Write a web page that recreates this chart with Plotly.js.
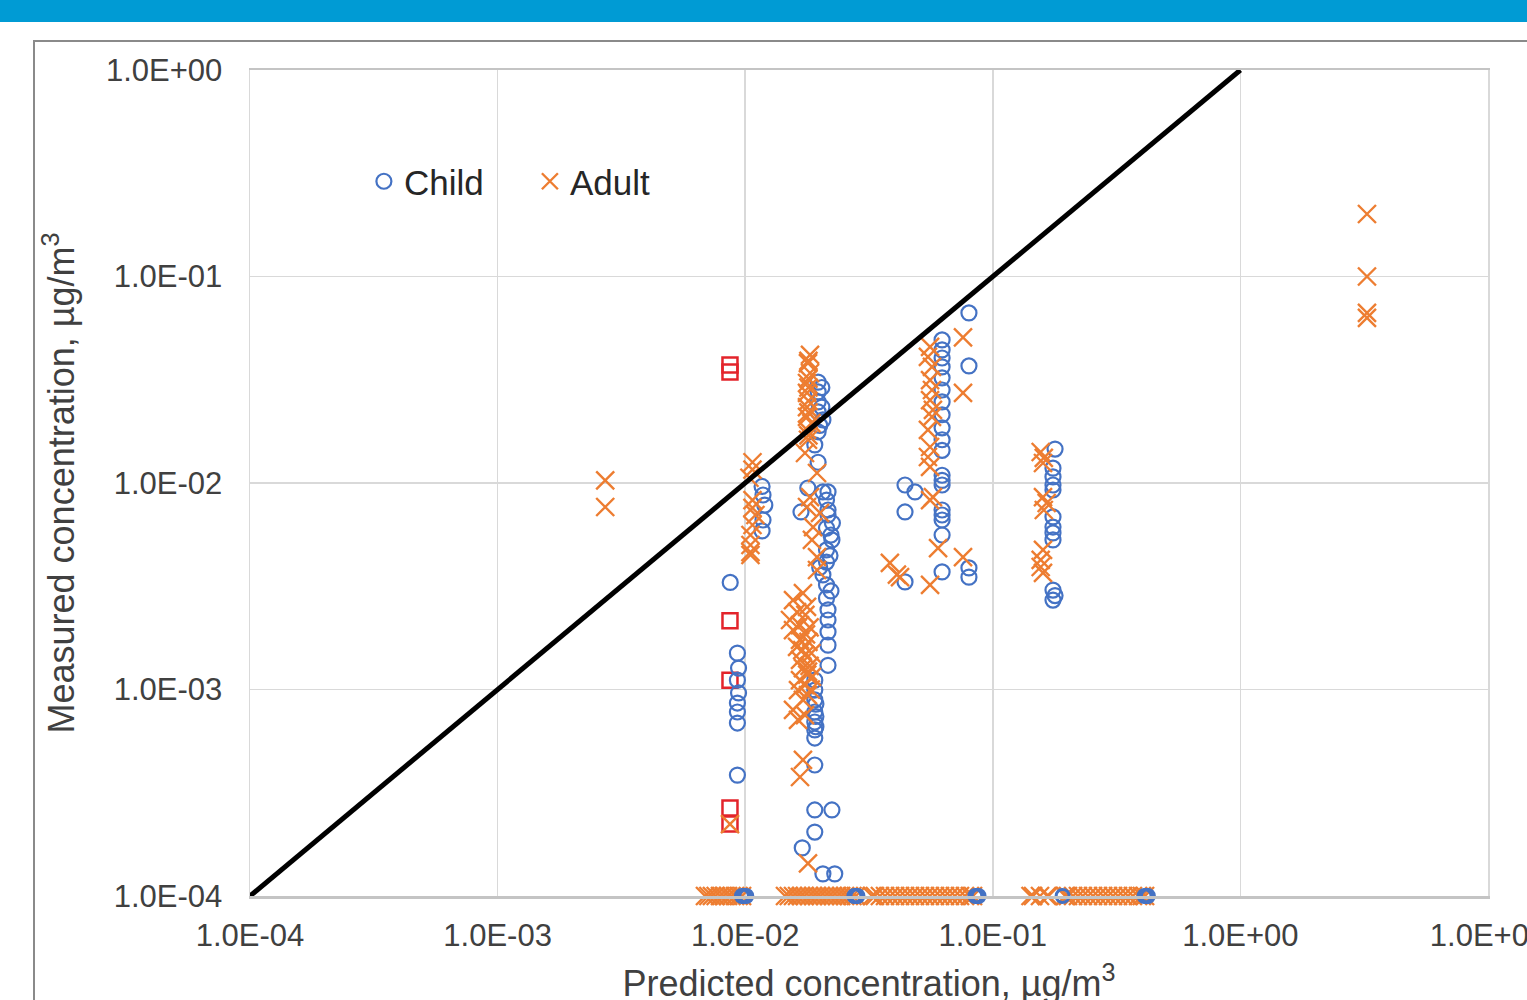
<!DOCTYPE html>
<html>
<head>
<meta charset="utf-8">
<script src="https://cdn.plot.ly/plotly-3.0.1.min.js"></script>
<style>
  html, body { margin: 0; padding: 0; background: #ffffff; overflow: hidden; width: 1527px; height: 1000px; }
  #topbar { position: absolute; left: 0; top: 0; width: 1527px; height: 22px; background: #009bd4; }
  #frame { position: absolute; left: 33px; top: 40px; width: 1600px; height: 1000px; border: 2px solid #8a8a8a; pointer-events: none; z-index: 5; }
  #chart { position: absolute; left: 0; top: 0; width: 1600px; height: 1040px; }
</style>
</head>
<body>
<div id="topbar"></div>
<div id="chart"></div>
<div id="frame"></div>
<script>
// ---- Data ----
const tickValues = [1e-4, 1e-3, 1e-2, 1e-1, 1e0, 1e1];
const xTickLabels = ["1.0E-04", "1.0E-03", "1.0E-02", "1.0E-01", "1.0E+00", "1.0E+01"];
const yTickValues = [1e-4, 1e-3, 1e-2, 1e-1, 1e0];
const yTickLabels = ["1.0E-04", "1.0E-03", "1.0E-02", "1.0E-01", "1.0E+00"];

// 1:1 line
const lineX = [1e-4, 1e0];
const lineY = [1e-4, 1e0];

// Child (measured above detection floor)
const childX = [
  0.0087, 0.0093, 0.0094, 0.0093, 0.0094, 0.0093, 0.0093, 0.0093, 0.0093,
  0.0117, 0.0118, 0.0120, 0.0118, 0.0117,
  0.0197, 0.0197, 0.0197, 0.0197, 0.0206, 0.0197, 0.0191, 0.0197, 0.0179, 0.0206,
  0.0216, 0.0213, 0.0168, 0.0216, 0.0216, 0.0213, 0.0224, 0.0213, 0.0213, 0.0206,
  0.0213, 0.0213, 0.0216, 0.0216, 0.0216, 0.0216, 0.0216, 0.0191, 0.0191, 0.0191,
  0.0191, 0.0191, 0.0191, 0.0191, 0.0191, 0.0191, 0.0224, 0.0191, 0.0170, 0.0206, 0.0230,
  0.0204, 0.0204, 0.0200, 0.0225, 0.0222, 0.0220, 0.0200, 0.0222, 0.0193, 0.0193, 0.0193,
  0.0442, 0.0485, 0.0442, 0.0442,
  0.0624, 0.0624, 0.0624, 0.0624, 0.0624, 0.0624, 0.0624, 0.0624, 0.0624, 0.0624,
  0.0624, 0.0624, 0.0624, 0.0624, 0.0624, 0.0624, 0.0624, 0.0624, 0.0624,
  0.0801, 0.0801, 0.0801, 0.0801,
  0.1784, 0.175, 0.175, 0.175, 0.175, 0.175, 0.175, 0.175, 0.175, 0.175, 0.1784, 0.175
];
const childY = [
  0.00330, 0.00150, 0.00127, 0.00111, 0.000962, 0.000860, 0.000778, 0.000688, 0.000385,
  0.00962, 0.00875, 0.00782, 0.00662, 0.00586,
  0.0308, 0.0276, 0.0247, 0.0221, 0.0202, 0.0177, 0.0153, 0.0126, 0.00946, 0.00905,
  0.00905, 0.00827, 0.00724, 0.00740, 0.00700, 0.00605, 0.00530, 0.00474, 0.00414, 0.00359,
  0.00321, 0.00277, 0.00243, 0.00217, 0.00190, 0.00164, 0.00131, 0.00111, 0.000994, 0.000890,
  0.000778, 0.000696, 0.000637, 0.000582, 0.000431, 0.000261, 0.000261, 0.000204, 0.000171, 0.000128, 0.000128,
  0.0290, 0.0233, 0.0190, 0.00640, 0.00560, 0.00445, 0.00390, 0.00300, 0.00085, 0.00074, 0.00066,
  0.00978, 0.00905, 0.00724, 0.00332,
  0.0493, 0.0441, 0.0403, 0.0365, 0.0323, 0.0282, 0.0247, 0.0214, 0.0185, 0.0162,
  0.0144, 0.0109, 0.0103, 0.00978, 0.00740, 0.00700, 0.00662, 0.00560, 0.00371,
  0.0666, 0.0369, 0.00388, 0.00350,
  0.0146, 0.0118, 0.0107, 0.00978, 0.00925, 0.00685, 0.00612, 0.00573, 0.00530, 0.00303, 0.00285, 0.00271
];

// Child at the detection floor
const childFloorX = [0.0097, 0.0099, 0.0101, 0.0276, 0.0280, 0.0284, 0.0850, 0.0863, 0.0876, 0.1914, 0.410, 0.417, 0.423];
const childFloorY = [1e-4, 1e-4, 1e-4, 1e-4, 1e-4, 1e-4, 1e-4, 1e-4, 1e-4, 1e-4, 1e-4, 1e-4, 1e-4];

// Adult
const adultX = [
  0.00272, 0.00272,
  0.0107, 0.0107, 0.0104, 0.0107, 0.0107, 0.0110, 0.0107, 0.0105, 0.0105, 0.0105, 0.0105,
  0.01827, 0.01793, 0.01827, 0.01777, 0.01777, 0.01777, 0.01777, 0.01777, 0.01793, 0.01744,
  0.0195, 0.01827, 0.01777, 0.02005, 0.0188, 0.0186, 0.0195, 0.0195, 0.01711, 0.0156,
  0.01777, 0.0162, 0.01517, 0.0156, 0.01665, 0.0162, 0.01665, 0.01665, 0.01744, 0.01711,
  0.01793, 0.01665, 0.01744, 0.01634, 0.01793, 0.01711, 0.0156, 0.01634, 0.01744, 0.01711,
  0.01665, 0.01793,
  0.0175, 0.0182, 0.0180, 0.0185, 0.0182, 0.0186, 0.0184, 0.0176, 0.0170, 0.0178,
  0.0180, 0.0180, 0.0180, 0.0180, 0.0180, 0.0185, 0.0180,
  0.0558, 0.0547, 0.0568, 0.0558, 0.0568, 0.0558, 0.0573, 0.0568, 0.0547, 0.0558,
  0.0547, 0.0558, 0.0573, 0.0558, 0.0601, 0.0384, 0.0422, 0.0558, 0.0758, 0.0758, 0.0758, 0.0410,
  0.1561, 0.1607, 0.1595, 0.1595, 0.1650, 0.1607, 0.1595, 0.1561, 0.1561, 0.1595,
  3.245, 3.245, 3.245, 3.245,
  0.00868,
  // detection floor
  0.00688, 0.0071, 0.00734, 0.0076, 0.00791, 0.0082, 0.00852, 0.0088, 0.0091, 0.0094, 0.00971,
  0.01448, 0.0150, 0.0156, 0.0162, 0.0168, 0.0174, 0.0181, 0.0188, 0.0195, 0.0202, 0.0210,
  0.0218, 0.0226, 0.0235, 0.0244, 0.0253, 0.0262, 0.0271, 0.0280,
  0.0325, 0.0334, 0.0350, 0.0367, 0.0385, 0.0403, 0.0422, 0.0442, 0.0463, 0.0485, 0.0508,
  0.0532, 0.0557, 0.0584, 0.0612, 0.0641, 0.0671, 0.0703, 0.0737, 0.0772, 0.0808, 0.0832,
  0.142, 0.1454, 0.1551, 0.1656, 0.168,
  0.196, 0.2012, 0.211, 0.2208, 0.231, 0.2424, 0.254, 0.266, 0.279, 0.2919, 0.306,
  0.3204, 0.336, 0.3516, 0.368, 0.3859, 0.400, 0.412
];
const adultY = [
  0.0103, 0.00765,
  0.0126, 0.0116, 0.0106, 0.00827, 0.00757, 0.00700, 0.00626, 0.00560, 0.00501, 0.00463, 0.00448,
  0.0417, 0.0381, 0.0341, 0.0305, 0.0273, 0.0233, 0.0209, 0.0181, 0.0162, 0.01397,
  0.01118, 0.00855, 0.00765, 0.00716, 0.00612, 0.00530, 0.00438, 0.00379, 0.00293, 0.00271,
  0.00251, 0.00237, 0.00217, 0.00194, 0.00205, 0.00161, 0.00174, 0.00139, 0.00147, 0.00127,
  0.00122, 0.00111, 0.00105, 0.000994, 0.00094, 0.00089, 0.000796, 0.000712, 0.000752, 0.000456,
  0.000377, 0.000144,
  0.00230, 0.00200, 0.00170, 0.00150, 0.00130, 0.00115, 0.00100, 0.00185, 0.00155, 0.00118,
  0.0390, 0.0320, 0.0290, 0.0250, 0.0220, 0.0195, 0.0170,
  0.0456, 0.0408, 0.0365, 0.0315, 0.0282, 0.0252, 0.0226, 0.0209, 0.0181, 0.01494,
  0.01336, 0.01196, 0.00855, 0.00827, 0.00484, 0.0041, 0.0035, 0.00321, 0.0507, 0.0273, 0.00438, 0.00360,
  0.01413, 0.01322, 0.0125, 0.00855, 0.0080, 0.0074, 0.00474, 0.00424, 0.00392, 0.00367,
  0.2008, 0.1, 0.0666, 0.063,
  0.000223,
  1e-4, 1e-4, 1e-4, 1e-4, 1e-4, 1e-4, 1e-4, 1e-4, 1e-4, 1e-4, 1e-4,
  1e-4, 1e-4, 1e-4, 1e-4, 1e-4, 1e-4, 1e-4, 1e-4, 1e-4, 1e-4, 1e-4,
  1e-4, 1e-4, 1e-4, 1e-4, 1e-4, 1e-4, 1e-4, 1e-4,
  1e-4, 1e-4, 1e-4, 1e-4, 1e-4, 1e-4, 1e-4, 1e-4, 1e-4, 1e-4, 1e-4,
  1e-4, 1e-4, 1e-4, 1e-4, 1e-4, 1e-4, 1e-4, 1e-4, 1e-4, 1e-4, 1e-4,
  1e-4, 1e-4, 1e-4, 1e-4, 1e-4,
  1e-4, 1e-4, 1e-4, 1e-4, 1e-4, 1e-4, 1e-4, 1e-4, 1e-4, 1e-4, 1e-4,
  1e-4, 1e-4, 1e-4, 1e-4, 1e-4, 1e-4, 1e-4
];

// Red squares (unlabelled series)
const squareX = [0.00868, 0.00868, 0.00868, 0.00868, 0.00868, 0.00868];
const squareY = [0.0373, 0.0345, 0.00215, 0.00111, 0.000267, 0.000223];

// ---- Styles ----
const blue = "#4472c4";
const orange = "#ed7d31";
const red = "#e3242b";
const textColor = "#404040";
const fontFamily = "'Liberation Sans', Arial, sans-serif";

const traces = [
  { x: squareX, y: squareY, type: "scatter", mode: "markers", showlegend: false, hoverinfo: "skip", cliponaxis: false,
    marker: { symbol: "square-open", size: 15, color: red, line: { width: 2.5, color: red } } },
  { x: childX, y: childY, type: "scatter", mode: "markers", name: "Child", cliponaxis: false,
    marker: { symbol: "circle-open", size: 15, color: blue, line: { width: 2.2, color: blue } } },
  { x: adultX, y: adultY, type: "scatter", mode: "markers", name: "Adult", cliponaxis: false,
    marker: { symbol: "x-thin-open", size: 18, color: orange, line: { width: 2.4, color: orange } } },
  { x: childFloorX, y: childFloorY, type: "scatter", mode: "markers", showlegend: false, name: "Child", cliponaxis: false,
    marker: { symbol: "circle-open", size: 13, color: blue, line: { width: 3, color: blue } } },
  { x: lineX, y: lineY, type: "scatter", mode: "lines", showlegend: false, hoverinfo: "skip", cliponaxis: false,
    line: { color: "#000000", width: 5 } }
];

const layout = {
  width: 1600,
  height: 1040,
  margin: { l: 250, r: 112, t: 70, b: 144 },
  paper_bgcolor: "rgba(0,0,0,0)",
  plot_bgcolor: "#ffffff",
  font: { family: fontFamily, color: textColor, size: 31 },
  showlegend: true,
  legend: {
    orientation: "h",
    x: 0.092, xanchor: "left",
    y: 0.865, yanchor: "middle",
    font: { family: fontFamily, size: 35, color: "#262626" },
    bgcolor: "rgba(0,0,0,0)",
    entrywidth: 121, entrywidthmode: "pixels",
    itemclick: false
  },
  xaxis: {
    type: "log",
    range: [-4, 1],
    tickmode: "array",
    tickvals: tickValues,
    ticktext: xTickLabels,
    tickfont: { family: fontFamily, size: 31, color: textColor },
    ticks: "outside", ticklen: 10, tickcolor: "rgba(0,0,0,0)",
    showgrid: true, gridcolor: "#d9d9d9", gridwidth: 1.5,
    showline: true, linecolor: "#c4c4c4", linewidth: 2.5, mirror: true,
    zeroline: false,
    automargin: false,
    title: { text: "Predicted concentration, µg/m<sup>3</sup>", font: { family: fontFamily, size: 36, color: textColor }, standoff: 19 }
  },
  yaxis: {
    type: "log",
    range: [-4, 0],
    tickmode: "array",
    tickvals: yTickValues,
    ticktext: yTickLabels,
    tickfont: { family: fontFamily, size: 31, color: textColor },
    ticks: "outside", ticklen: 20, tickcolor: "rgba(0,0,0,0)",
    showgrid: true, gridcolor: "#d9d9d9", gridwidth: 1.5,
    showline: true, linecolor: "#d9d9d9", linewidth: 1.5, mirror: true,
    zeroline: false,
    automargin: false,
    title: { text: "Measured concentration, µg/m<sup>3</sup>", font: { family: fontFamily, size: 36, color: textColor }, standoff: 20 }
  }
};

Plotly.newPlot("chart", traces, layout, { displayModeBar: false, staticPlot: true });
</script>
</body>
</html>
